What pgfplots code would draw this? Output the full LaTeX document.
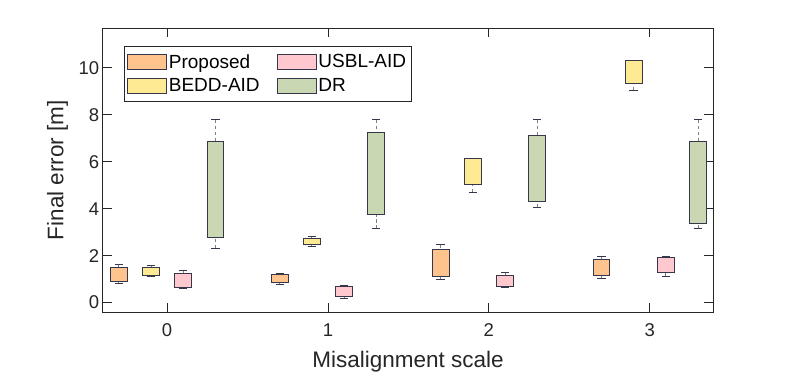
\documentclass[border=0pt]{standalone}
\usepackage{pgfplots}
\pgfplotsset{compat=1.18}
\usepgfplotslibrary{statistics}
\usepackage{fontspec}
\setmainfont{Liberation Sans}
\definecolor{cP}{RGB}{255,196,142}
\definecolor{cB}{RGB}{255,234,148}
\definecolor{cU}{RGB}{255,199,206}
\definecolor{cD}{RGB}{201,215,179}
\definecolor{edge}{RGB}{55,55,75}
\definecolor{axc}{RGB}{38,38,38}
\pgfplotsset{
  boxplot/draw direction=y,
  boxplot/draw/lower whisker/.code={%
    \draw[dash pattern=on 3.5pt off 2.5pt, gray, line width=0.8pt, fill=none]
      (boxplot box cs:\pgfplotsboxplotvalue{lower whisker},0.5) --
      (boxplot box cs:\pgfplotsboxplotvalue{lower quartile},0.5);
    \draw[solid, edge, line width=0.8pt, fill=none]
      (boxplot box cs:\pgfplotsboxplotvalue{lower whisker},0.25) --
      (boxplot box cs:\pgfplotsboxplotvalue{lower whisker},0.75);
  },
  boxplot/draw/upper whisker/.code={%
    \draw[dash pattern=on 3.5pt off 2.5pt, gray, line width=0.8pt, fill=none]
      (boxplot box cs:\pgfplotsboxplotvalue{upper whisker},0.5) --
      (boxplot box cs:\pgfplotsboxplotvalue{upper quartile},0.5);
    \draw[solid, edge, line width=0.8pt, fill=none]
      (boxplot box cs:\pgfplotsboxplotvalue{upper whisker},0.25) --
      (boxplot box cs:\pgfplotsboxplotvalue{upper whisker},0.75);
  },
  boxplot/draw/median/.code={},
  mybox/.style={solid, draw=edge, line width=0.8pt, mark=none, forget plot},
}
\newcommand{\bx}[7]{% pos, lw, lq, uq, uw, color
  \addplot+[mybox, fill=#6, boxplot prepared={draw position=#1, lower whisker=#2, lower quartile=#3, median=#3, upper quartile=#4, upper whisker=#5, box extend=0.104}] coordinates {};
}
\begin{document}
\begin{tikzpicture}
\useasboundingbox (-102.7pt,-63pt) rectangle (686.3pt,312pt);
\begin{axis}[
  at={(0pt,0pt)}, anchor=south west,
  scale only axis, width=610.6pt, height=284pt,
  xmin=-0.4, xmax=3.395, ymin=-0.4, ymax=11.7,
  xtick={0,1,2,3}, ytick={0,2,4,6,8,10},
  tick align=inside, major tick length=9pt,
  axis line style={axc, line width=0.8pt},
  every tick/.style={axc, line width=0.8pt},
  tick label style={font=\fontsize{18.5}{20}\selectfont, text=axc},
  xticklabel style={yshift=-8pt},
  /pgf/number format/assume math mode=true,
  xlabel={Misalignment scale}, ylabel={Final error [m]},
  label style={font=\fontsize{22.5}{26}\selectfont, text=axc},
  xlabel style={at={(axis description cs:0.5,-0.197)}, anchor=base},
  ylabel style={at={(axis description cs:-0.0645,0.5)}, anchor=base},
  legend columns=2,
  legend cell align=left,
  legend style={at={(axis description cs:0.0344,0.9366)}, anchor=north west,
    draw=axc, line width=0.8pt, font=\fontsize{19}{21}\selectfont,
    inner xsep=3pt, inner ysep=6pt, row sep=5pt,
    /tikz/every even column/.append style={column sep=15pt}},
  legend image code/.code={\draw[#1, line width=0.8pt] (0pt,-7.5pt) rectangle (39pt,7.5pt);},
]
\addlegendimage{fill=cP, draw=edge}
\addlegendentry{Proposed}
\addlegendimage{fill=cU, draw=edge}
\addlegendentry{USBL-AID}
\addlegendimage{fill=cB, draw=edge}
\addlegendentry{BEDD-AID}
\addlegendimage{fill=cD, draw=edge}
\addlegendentry{DR}

% group 0
\bx{-0.3}{0.81}{0.89}{1.52}{1.63}{cP}{}
\bx{-0.1}{1.13}{1.15}{1.49}{1.59}{cB}{}
\bx{0.1}{0.61}{0.64}{1.25}{1.39}{cU}{}
\bx{0.3}{2.31}{2.77}{6.87}{7.80}{cD}{}
% group 1
\bx{0.7}{0.78}{0.87}{1.22}{1.23}{cP}{}
\bx{0.9}{2.40}{2.47}{2.73}{2.80}{cB}{}
\bx{1.1}{0.19}{0.27}{0.70}{0.72}{cU}{}
\bx{1.3}{3.15}{3.76}{7.25}{7.80}{cD}{}
% group 2
\bx{1.7}{0.98}{1.12}{2.26}{2.48}{cP}{}
\bx{1.9}{4.70}{5.04}{6.14}{6.15}{cB}{}
\bx{2.1}{0.66}{0.67}{1.17}{1.29}{cU}{}
\bx{2.3}{4.07}{4.33}{7.12}{7.80}{cD}{}
% group 3
\bx{2.7}{1.04}{1.15}{1.86}{1.97}{cP}{}
\bx{2.9}{9.04}{9.35}{10.31}{10.32}{cB}{}
\bx{3.1}{1.12}{1.29}{1.94}{1.97}{cU}{}
\bx{3.3}{3.15}{3.39}{6.87}{7.80}{cD}{}
\end{axis}
\end{tikzpicture}
\end{document}
